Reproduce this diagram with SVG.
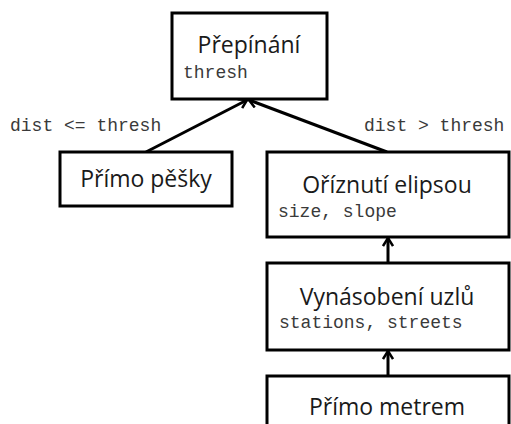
<svg xmlns="http://www.w3.org/2000/svg" width="511" height="424" viewBox="0 0 511 424">
<defs>
<style>
.box{fill:#fff;stroke:#000;stroke-width:3}
.t{font-family:"Open Sans","Noto Sans",sans-serif;font-size:23px;fill:#1a1a1a;text-anchor:middle}
.m{font-family:"Liberation Mono","Courier New",monospace;font-size:18px;fill:#3a3a3a}
.c{stroke:#000;stroke-width:3;fill:none}
</style>
<marker id="ah" viewBox="0 0 12 12" refX="10" refY="6" markerWidth="12" markerHeight="12" markerUnits="userSpaceOnUse" orient="auto">
<path d="M2,1 L10,6 L2,11" fill="none" stroke="#000" stroke-width="2.5"/>
</marker>
</defs>
<rect width="511" height="424" fill="#fff"/>
<g id="connectors">
<line class="c" x1="146" y1="152" x2="247" y2="100" marker-end="url(#ah)"/>
<line class="c" x1="387" y1="152" x2="249" y2="100" marker-end="url(#ah)"/>
<line class="c" x1="388" y1="263" x2="388" y2="238" marker-end="url(#ah)"/>
<line class="c" x1="388" y1="376" x2="388" y2="351" marker-end="url(#ah)"/>
<text class="m" x="10" y="131">dist &lt;= thresh</text>
<text class="m" x="364" y="131">dist &gt; thresh</text>
</g>
<g id="prepinani">
<rect class="box" x="172" y="13" width="155" height="86"/>
<text class="t" x="249" y="53">Přepínání</text>
<text class="m" x="183" y="78">thresh</text>
</g>
<g id="primo-pesky">
<rect class="box" x="60" y="152" width="172" height="54"/>
<text class="t" x="146" y="187">Přímo pěšky</text>
</g>
<g id="oriznuti">
<rect class="box" x="267" y="152" width="242" height="85"/>
<text class="t" x="387" y="193">Oříznutí elipsou</text>
<text class="m" x="278" y="217">size, slope</text>
</g>
<g id="vynasobeni">
<rect class="box" x="267" y="263" width="242" height="87"/>
<text class="t" x="387" y="305">Vynásobení uzlů</text>
<text class="m" x="279" y="328">stations, streets</text>
</g>
<g id="primo-metrem">
<rect class="box" x="267" y="376" width="242" height="60"/>
<text class="t" x="387" y="415">Přímo metrem</text>
</g>
</svg>
